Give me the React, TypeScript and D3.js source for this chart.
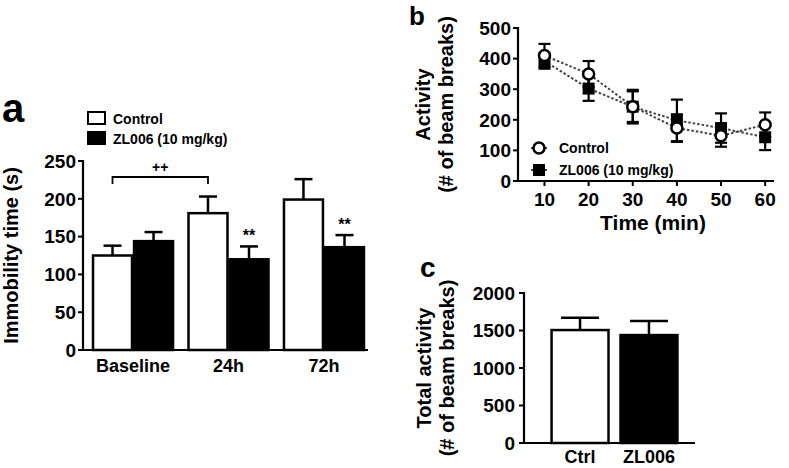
import React from "react";
import * as d3 from "d3";

// ---------- data ----------
const groupsA = ["Baseline", "24h", "72h"];
const seriesA = ["Control", "ZL006 (10 mg/kg)"];
const controlA = [125, 181, 199];
const controlAErr = [13, 22, 27];
const zlA = [144, 120, 136];
const zlAErr = [12, 17, 16];
const ticksA = [0, 50, 100, 150, 200, 250];

const timesB = [10, 20, 30, 40, 50, 60];
const controlB = [410, 350, 243, 173, 148, 184];
const controlBErr = [38, 42, 55, 45, 36, 40];
const zlB = [392, 302, 243, 198, 173, 143];
const zlBErr = [25, 40, 50, 68, 48, 42];
const ticksBY = [0, 100, 200, 300, 400, 500];

const groupsC = ["Ctrl", "ZL006"];
const valuesC = [1506, 1439];
const errC = [164, 187];
const ticksC = [0, 500, 1000, 1500, 2000];

const FONT = "Arial, 'Liberation Sans', Helvetica, sans-serif";

function PanelA() {
  const y = d3.scaleLinear().domain([0, 250]).range([350, 161]);
  const x = d3.scaleBand().domain(groupsA).range([83, 374]).paddingInner(0.162).paddingOuter(0.105);
  const xi = d3.scaleBand().domain(seriesA).range([0, x.bandwidth()]).paddingInner(0.05);
  const bw = xi.bandwidth();
  const sets = [
    { name: seriesA[0], vals: controlA, errs: controlAErr, fill: "#fff" },
    { name: seriesA[1], vals: zlA, errs: zlAErr, fill: "#000" },
  ];
  const cx = (g: string, s: string) => (x(g) as number) + (xi(s) as number) + bw / 2;
  const b1 = cx(groupsA[0], seriesA[0]);
  const b2 = cx(groupsA[1], seriesA[0]);
  return (
    <g>
      <text x={2} y={122} fontSize={40} fontWeight="bold" fontFamily={FONT}>a</text>
      {/* legend */}
      {sets.map((s, i) => (
        <g key={s.name}>
          <rect x={88} y={112 + i * 20} width={17} height={12} fill={s.fill} stroke="#000" strokeWidth={2} />
          <text x={113} y={124 + i * 20} fontSize={14} fontWeight="bold" fontFamily={FONT}>{s.name}</text>
        </g>
      ))}
      {/* bars */}
      {sets.map((s) =>
        groupsA.map((g, gi) => {
          const c = cx(g, s.name);
          const top = y(s.vals[gi]);
          const et = y(s.vals[gi] + s.errs[gi]);
          return (
            <g key={s.name + g}>
              <line x1={c} x2={c} y1={top} y2={et} stroke="#000" strokeWidth={2.5} />
              <line x1={c - 9} x2={c + 9} y1={et} y2={et} stroke="#000" strokeWidth={2.5} />
              <rect x={c - bw / 2} y={top} width={bw} height={y(0) - top} fill={s.fill} stroke="#000" strokeWidth={2.5} />
            </g>
          );
        })
      )}
      {/* axes */}
      <line x1={83} x2={83} y1={160} y2={351} stroke="#000" strokeWidth={2.2} />
      <line x1={82} x2={368} y1={350} y2={350} stroke="#000" strokeWidth={2.2} />
      {ticksA.map((t) => (
        <g key={t}>
          <line x1={78} x2={83} y1={y(t)} y2={y(t)} stroke="#000" strokeWidth={2} />
          <text x={76} y={y(t)} dy="0.36em" textAnchor="end" fontSize={19} fontWeight="bold" fontFamily={FONT}>{t}</text>
        </g>
      ))}
      {groupsA.map((g) => (
        <text key={g} x={(x(g) as number) + x.bandwidth() / 2} y={372} textAnchor="middle" fontSize={18} fontWeight="bold" fontFamily={FONT}>{g}</text>
      ))}
      <text transform={`translate(18,255.5) rotate(-90)`} textAnchor="middle" fontSize={20} fontWeight="bold" fontFamily={FONT}>Immobility time (s)</text>
      {/* significance */}
      <path d={`M${b1},184 V177 H${b2} V184`} fill="none" stroke="#000" strokeWidth={1.8} />
      <text x={(b1 + b2) / 2} y={172} textAnchor="middle" fontSize={14} fontWeight="bold" fontFamily={FONT}>++</text>
      {[1, 2].map((gi) => {
        const c = cx(groupsA[gi], seriesA[1]);
        return (
          <text key={gi} x={c} y={y(zlA[gi] + zlAErr[gi]) - 5} dy="0.72em" textAnchor="middle" fontSize={16} fontWeight="bold" fontFamily={FONT} transform={`translate(0,-12)`}>**</text>
        );
      })}
    </g>
  );
}

function PanelB() {
  const x = d3.scaleLinear().domain([4, 62]).range([518, 774]);
  const y = d3.scaleLinear().domain([0, 500]).range([181, 28]);
  const line = d3.line<number>().x((_, i) => x(timesB[i])).y((d) => y(d));
  const sets = [
    { name: "ZL006 (10 mg/kg)", vals: zlB, errs: zlBErr, type: "square" },
    { name: "Control", vals: controlB, errs: controlBErr, type: "circle" },
  ];
  const marker = (type: string, cx: number, cy: number, k: string) =>
    type === "circle" ? (
      <circle key={k} cx={cx} cy={cy} r={5.5} fill="#fff" stroke="#000" strokeWidth={2.5} />
    ) : (
      <rect key={k} x={cx - 6} y={cy - 6} width={12} height={12} fill="#000" />
    );
  return (
    <g>
      <text x={409} y={25} fontSize={26} fontWeight="bold" fontFamily={FONT}>b</text>
      {sets.map((s) => (
        <path key={s.name + "l"} d={line(s.vals) as string} fill="none" stroke="#444" strokeWidth={2} strokeDasharray="2.5,2" />
      ))}
      {sets.map((s) =>
        s.vals.map((v, i) => {
          const cx = x(timesB[i]);
          const t = y(v + s.errs[i]);
          const b = y(v - s.errs[i]);
          return (
            <g key={s.name + i}>
              <line x1={cx} x2={cx} y1={t} y2={b} stroke="#000" strokeWidth={2.2} />
              <line x1={cx - 6} x2={cx + 6} y1={t} y2={t} stroke="#000" strokeWidth={2.2} />
              <line x1={cx - 6} x2={cx + 6} y1={b} y2={b} stroke="#000" strokeWidth={2.2} />
            </g>
          );
        })
      )}
      {sets.map((s) => s.vals.map((v, i) => marker(s.type, x(timesB[i]), y(v), s.name + "m" + i)))}
      {/* axes */}
      <line x1={518} x2={518} y1={27} y2={182} stroke="#000" strokeWidth={2.2} />
      <line x1={517} x2={774} y1={181} y2={181} stroke="#000" strokeWidth={2.2} />
      {ticksBY.map((t) => (
        <g key={t}>
          <line x1={513} x2={518} y1={y(t)} y2={y(t)} stroke="#000" strokeWidth={2} />
          <text x={511} y={y(t)} dy="0.36em" textAnchor="end" fontSize={19} fontWeight="bold" fontFamily={FONT}>{t}</text>
        </g>
      ))}
      {timesB.map((t) => (
        <g key={t}>
          <line x1={x(t)} x2={x(t)} y1={181} y2={186} stroke="#000" strokeWidth={2} />
          <text x={x(t)} y={206} textAnchor="middle" fontSize={19} fontWeight="bold" fontFamily={FONT}>{t}</text>
        </g>
      ))}
      <text x={653} y={230} textAnchor="middle" fontSize={21} fontWeight="bold" fontFamily={FONT}>Time (min)</text>
      <text transform={`translate(430,104.5) rotate(-90)`} textAnchor="middle" fontSize={20} fontWeight="bold" fontFamily={FONT}>Activity</text>
      <text transform={`translate(453,104.5) rotate(-90)`} textAnchor="middle" fontSize={20} fontWeight="bold" fontFamily={FONT}>(# of beam breaks)</text>
      {/* legend */}
      {["Control", "ZL006 (10 mg/kg)"].map((n, i) => {
        const ly = 148 + i * 22;
        return (
          <g key={n}>
            <line x1={531} x2={547} y1={ly} y2={ly} stroke="#444" strokeWidth={2} strokeDasharray="2.5,2" />
            {marker(i === 0 ? "circle" : "square", 539, ly, "lg" + i)}
            <text x={559} y={ly + 5} fontSize={14} fontWeight="bold" fontFamily={FONT}>{n}</text>
          </g>
        );
      })}
    </g>
  );
}

function PanelC() {
  const x = d3.scaleBand().domain(groupsC).range([524, 705]).paddingInner(0.174).paddingOuter(0.4);
  const y = d3.scaleLinear().domain([0, 2000]).range([443, 293]);
  const fills = ["#fff", "#000"];
  return (
    <g>
      <text x={420} y={277} fontSize={28} fontWeight="bold" fontFamily={FONT}>c</text>
      {groupsC.map((g, i) => {
        const x0 = x(g) as number;
        const c = x0 + x.bandwidth() / 2;
        const top = y(valuesC[i]);
        const et = y(valuesC[i] + errC[i]);
        return (
          <g key={g}>
            <line x1={c} x2={c} y1={top} y2={et} stroke="#000" strokeWidth={2.5} />
            <line x1={c - 19} x2={c + 19} y1={et} y2={et} stroke="#000" strokeWidth={2.5} />
            <rect x={x0} y={top} width={x.bandwidth()} height={y(0) - top} fill={fills[i]} stroke="#000" strokeWidth={2.5} />
            <text x={c} y={463} textAnchor="middle" fontSize={18} fontWeight="bold" fontFamily={FONT}>{g}</text>
          </g>
        );
      })}
      <line x1={524} x2={524} y1={292} y2={444} stroke="#000" strokeWidth={2.2} />
      <line x1={523} x2={695} y1={443} y2={443} stroke="#000" strokeWidth={2.2} />
      {ticksC.map((t) => (
        <g key={t}>
          <line x1={519} x2={524} y1={y(t)} y2={y(t)} stroke="#000" strokeWidth={2} />
          <text x={515} y={y(t)} dy="0.36em" textAnchor="end" fontSize={19} fontWeight="bold" fontFamily={FONT}>{t}</text>
        </g>
      ))}
      <text transform={`translate(431,368) rotate(-90)`} textAnchor="middle" fontSize={20} fontWeight="bold" fontFamily={FONT}>Total activity</text>
      <text transform={`translate(454,368) rotate(-90)`} textAnchor="middle" fontSize={20} fontWeight="bold" fontFamily={FONT}>(# of beam breaks)</text>
    </g>
  );
}

export default function App() {
  return (
    <svg width={789} height={468} style={{ position: "absolute", left: 0, top: 0, background: "#fff" }}>
      <rect width={789} height={468} fill="#fff" />
      <PanelA />
      <PanelB />
      <PanelC />
    </svg>
  );
}
